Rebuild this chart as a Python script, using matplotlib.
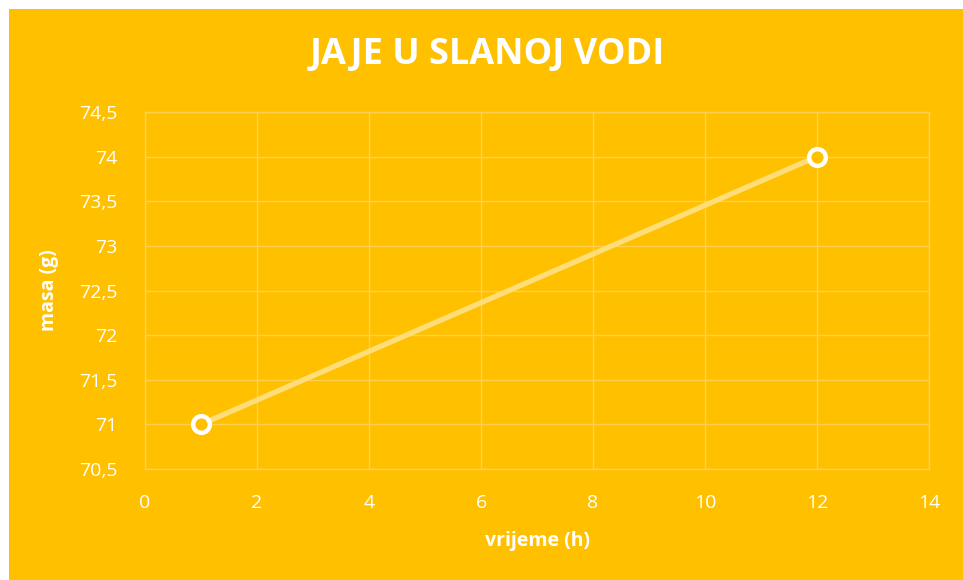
import matplotlib.pyplot as plt
from matplotlib.patches import Rectangle
from matplotlib.ticker import FuncFormatter, MultipleLocator

# data
vrijeme = [1, 12]
masa = [71, 74]

title = 'JAJE U SLANOJ VODI'
xlabel = 'vrijeme (h)'
ylabel = 'masa (g)'

bg = '#FFC000'
grid_col = '#FFD04D'
line_col = '#FFDE7A'

plt.rcParams['font.family'] = ['Open Sans', 'DejaVu Sans']

fig = plt.figure(figsize=(9.63, 5.8), dpi=100, facecolor='white')
# orange chart area with a thin white margin top/left
fig.patches.append(Rectangle((9 / 963, 0), 1 - 9 / 963, 1 - 9 / 580,
                             transform=fig.transFigure, facecolor=bg,
                             edgecolor='none', zorder=-10))

ax = fig.add_axes([145 / 963, 1 - 469 / 580, (929 - 145) / 963, (469 - 112) / 580])
ax.set_facecolor(bg)

ax.plot(vrijeme, masa, color=line_col, linewidth=3.8, solid_capstyle='round',
        marker='o', markersize=12, markerfacecolor=bg, markeredgecolor='white',
        markeredgewidth=3.2, zorder=3, clip_on=False)

ax.set_xlim(0, 14)
ax.set_ylim(70.5, 74.5)
ax.xaxis.set_major_locator(MultipleLocator(2))
ax.yaxis.set_major_locator(MultipleLocator(0.5))
ax.yaxis.set_major_formatter(FuncFormatter(lambda v, p: '{:g}'.format(v).replace('.', ',')))

ax.grid(True, color=grid_col, linewidth=1.0)
ax.set_axisbelow(True)
for s in ax.spines.values():
    s.set_color(grid_col)
    s.set_linewidth(1.0)

ax.tick_params(length=0, labelsize=14, labelcolor='white')
ax.tick_params(axis='y', pad=20)
ax.tick_params(axis='x', pad=18)

ax.set_xlabel(xlabel, fontsize=14, fontweight='bold', color='white', labelpad=14)
ax.set_ylabel(ylabel, fontsize=14, fontweight='bold', color='white', labelpad=14)

fig.text(487 / 963, 1 - 55 / 580, title, fontsize=26, fontweight='bold',
         color='white', ha='center', va='center')

fig.savefig('out.png', dpi=100, facecolor='white')
